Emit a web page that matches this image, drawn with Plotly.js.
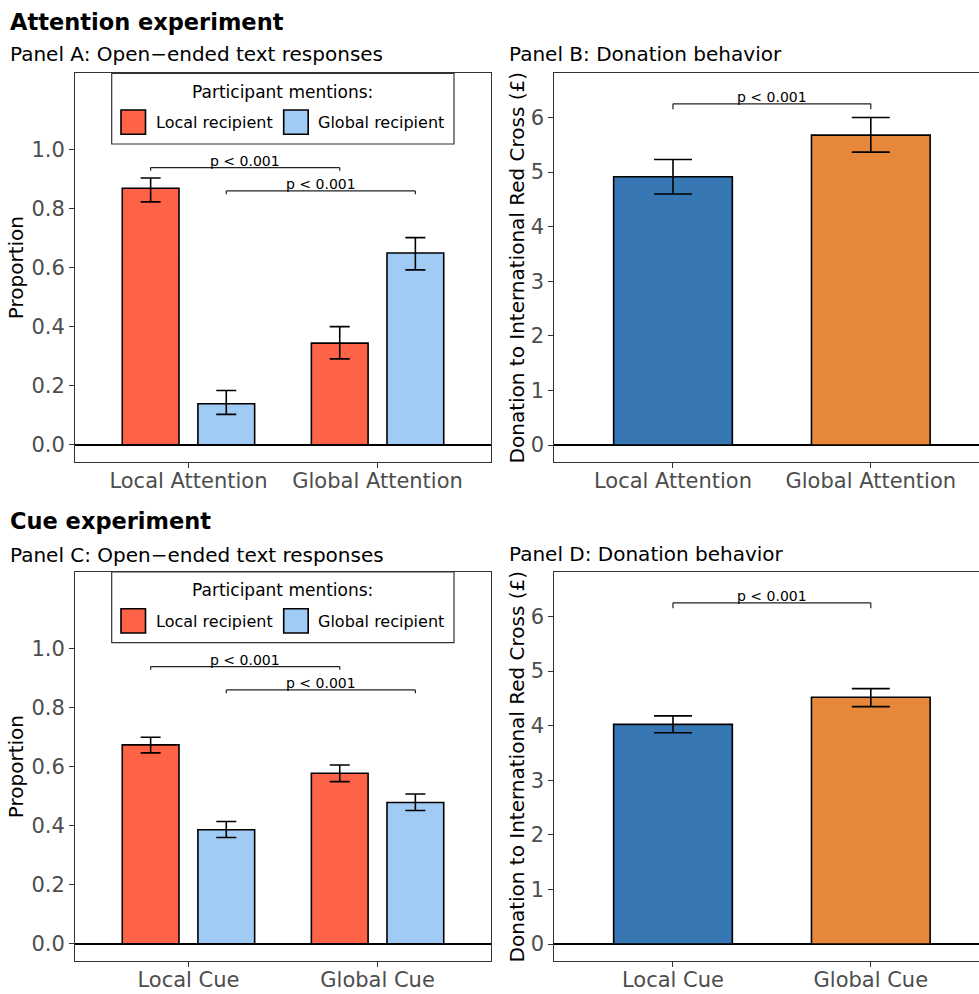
<!DOCTYPE html>
<html>
<head>
<meta charset="utf-8">
<script src="https://cdn.plot.ly/plotly-3.0.1.min.js"></script>
<style>html,body{margin:0;padding:0;background:#fff;}#chart{width:979px;height:994px;}</style>
</head>
<body>
<div id="chart"></div>
<script>
// ---------- data ----------
const attnCategories = ['Local Attention', 'Global Attention'];
const cueCategories = ['Local Cue', 'Global Cue'];
const mentionSeries = ['Local recipient', 'Global recipient'];
const legendTitle = 'Participant mentions:';

const attnLocalMention = [0.868, 0.344];
const attnLocalMentionHi = [0.903, 0.400];
const attnLocalMentionLo = [0.822, 0.291];
const attnGlobalMention = [0.139, 0.649];
const attnGlobalMentionHi = [0.184, 0.701];
const attnGlobalMentionLo = [0.103, 0.592];

const attnDonation = [4.915, 5.677];
const attnDonationHi = [5.23, 6.00];
const attnDonationLo = [4.60, 5.366];

const cueLocalMention = [0.673, 0.577];
const cueLocalMentionHi = [0.699, 0.605];
const cueLocalMentionLo = [0.646, 0.549];
const cueGlobalMention = [0.386, 0.478];
const cueGlobalMentionHi = [0.414, 0.507];
const cueGlobalMentionLo = [0.360, 0.451];

const cueDonation = [4.024, 4.52];
const cueDonationHi = [4.18, 4.68];
const cueDonationLo = [3.87, 4.35];

const propTickVals = [0, 0.2, 0.4, 0.6, 0.8, 1.0];
const propTickText = ['0.0', '0.2', '0.4', '0.6', '0.8', '1.0'];
const donTickVals = [0, 1, 2, 3, 4, 5, 6];
const donTickText = ['0', '1', '2', '3', '4', '5', '6'];

const pLabel = 'p < 0.001';
// brackets: [x start, x end, y]
const propBrackets = [[-0.2, 0.8, 0.938], [0.2, 1.2, 0.859]];
const donBracket = [0, 1, 6.25];

// ---------- styles ----------
const W = 979, H = 994;
const FONT = 'DejaVu Sans, Liberation Sans, Arial, sans-serif';
const cLocal = '#FF6347', cGlobal = '#A0CBF5';
const cDonLocal = '#3777B3', cDonGlobal = '#E7873A';
const px = x => x / W;
const py = y => 1 - y / H;

function errs(v, hi, lo) {
  return {
    type: 'data', symmetric: false,
    array: v.map((d, i) => hi[i] - d),
    arrayminus: v.map((d, i) => d - lo[i]),
    color: '#000', thickness: 1.6
  };
}

function mentionTraces(cats, loc, locHi, locLo, glo, gloHi, gloLo, xa, ya) {
  return [
    {type: 'bar', x: cats, y: loc, name: mentionSeries[0], xaxis: xa, yaxis: ya,
     marker: {color: cLocal, line: {color: '#000', width: 1.6}},
     error_y: Object.assign(errs(loc, locHi, locLo), {width: 10}), showlegend: false},
    {type: 'bar', x: cats, y: glo, name: mentionSeries[1], xaxis: xa, yaxis: ya,
     marker: {color: cGlobal, line: {color: '#000', width: 1.6}},
     error_y: Object.assign(errs(glo, gloHi, gloLo), {width: 10}), showlegend: false}
  ];
}
function donationTrace(cats, v, hi, lo, xa, ya) {
  return {type: 'bar', x: cats, y: v, xaxis: xa, yaxis: ya, width: 0.6, showlegend: false,
    marker: {color: [cDonLocal, cDonGlobal], line: {color: '#000', width: 1.6}},
    error_y: Object.assign(errs(v, hi, lo), {width: 19})};
}

const data = [
  ...mentionTraces(attnCategories, attnLocalMention, attnLocalMentionHi, attnLocalMentionLo,
                   attnGlobalMention, attnGlobalMentionHi, attnGlobalMentionLo, 'x', 'y'),
  donationTrace(attnCategories, attnDonation, attnDonationHi, attnDonationLo, 'x2', 'y2'),
  ...mentionTraces(cueCategories, cueLocalMention, cueLocalMentionHi, cueLocalMentionLo,
                   cueGlobalMention, cueGlobalMentionHi, cueGlobalMentionLo, 'x3', 'y3'),
  donationTrace(cueCategories, cueDonation, cueDonationHi, cueDonationLo, 'x4', 'y4')
];

const tickFont = {family: FONT, size: 21, color: '#4D4D4D'};
const titleFont = {family: FONT, size: 20, color: '#000'};
function xAx(dom, range, anchor) {
  return {domain: dom, range: range, anchor: anchor, type: 'category',
    showline: true, mirror: true, linecolor: '#333', linewidth: 1,
    ticks: 'outside', ticklen: 5, tickcolor: '#333', tickfont: tickFont,
    ticklabelstandoff: -5,
    showgrid: false, zeroline: false, fixedrange: true};
}
function yAx(dom, range, anchor, tv, tt, title, standoff) {
  return {domain: dom, range: range, anchor: anchor,
    tickmode: 'array', tickvals: tv, ticktext: tt,
    showline: true, mirror: true, linecolor: '#333', linewidth: 1,
    ticks: 'outside', ticklen: 5, tickcolor: '#333', tickfont: tickFont,
    showgrid: false, zeroline: true, zerolinecolor: '#000', zerolinewidth: 1.5,
    title: {text: title, font: titleFont, standoff: standoff}, fixedrange: true};
}

const xLeft = [px(75), px(491)];
const xRight = [px(554.3), 1];
const yTop = [py(462), py(73.3)];
const yBot = [py(961), py(572.3)];

const shapes = [];
const annotations = [];

function addBracket(xa, ya, x0, x1, y, tick) {
  const line = {color: '#222', width: 1.2};
  shapes.push({type: 'line', xref: xa, yref: ya, x0: x0, x1: x1, y0: y, y1: y, line: line});
  shapes.push({type: 'line', xref: xa, yref: ya, x0: x0, x1: x0, y0: y, y1: y - tick, line: line});
  shapes.push({type: 'line', xref: xa, yref: ya, x0: x1, x1: x1, y0: y, y1: y - tick, line: line});
  annotations.push({xref: xa, yref: ya, x: (x0 + x1) / 2, y: y, text: pLabel, showarrow: false,
    xanchor: 'center', yanchor: 'bottom', yshift: -3, font: {family: FONT, size: 14, color: '#000'}});
}
propBrackets.forEach(b => addBracket('x', 'y', b[0], b[1], b[2], 0.011));
propBrackets.forEach(b => addBracket('x3', 'y3', b[0], b[1], b[2], 0.011));
addBracket('x2', 'y2', donBracket[0], donBracket[1], donBracket[2], 0.1);
addBracket('x4', 'y4', donBracket[0], donBracket[1], donBracket[2], 0.1);

function addLegend(dy) {
  shapes.push({type: 'rect', xref: 'paper', yref: 'paper', x0: px(111.7), x1: px(454),
    y0: py(144 + dy), y1: py(73.3 + dy), line: {color: '#333', width: 1.2}, fillcolor: '#fff'});
  annotations.push({xref: 'paper', yref: 'paper', x: px(282.5), y: py(91.5 + dy), text: legendTitle,
    showarrow: false, xanchor: 'center', yanchor: 'middle', font: {family: FONT, size: 17, color: '#000'}});
  const sw = [[121, cLocal, 155.7], [283.7, cGlobal, 317.7]];
  sw.forEach((s, i) => {
    shapes.push({type: 'rect', xref: 'paper', yref: 'paper', x0: px(s[0]), x1: px(s[0] + 24.5),
      y0: py(134.3 + dy), y1: py(110 + dy), fillcolor: s[1], line: {color: '#000', width: 1.6}});
    annotations.push({xref: 'paper', yref: 'paper', x: px(s[2]), y: py(123 + dy), text: mentionSeries[i],
      showarrow: false, xanchor: 'left', yanchor: 'middle', xshift: -2, font: {family: FONT, size: 16, color: '#000'}});
  });
}
addLegend(0);
addLegend(498.7);

function addTitle(text, x, yc, size, bold) {
  annotations.push({xref: 'paper', yref: 'paper', x: px(x), y: py(yc), text: bold ? '<b>' + text + '</b>' : text,
    showarrow: false, xanchor: 'left', yanchor: 'middle', xshift: -2,
    font: {family: FONT, size: size, color: '#000'}});
}
addTitle('Attention experiment', 10, 21.5, 22.5, true);
addTitle('Panel A: Open−ended text responses', 10, 54.5, 20, false);
addTitle('Panel B: Donation behavior', 508.5, 54, 20, false);
addTitle('Cue experiment', 10, 520.5, 22.5, true);
addTitle('Panel C: Open−ended text responses', 10, 554.5, 20, false);
addTitle('Panel D: Donation behavior', 508.5, 554, 20, false);

const layout = {
  width: W, height: H, margin: {l: 0, r: 0, t: 0, b: 0},
  paper_bgcolor: '#fff', plot_bgcolor: '#fff',
  font: {family: FONT},
  barmode: 'group', bargap: 0.2, bargroupgap: 0.25,
  showlegend: false,
  xaxis: xAx(xLeft, [-0.6, 1.6], 'y'),
  yaxis: yAx(yTop, [-0.058, 1.257], 'x', propTickVals, propTickText, 'Proportion', 2),
  xaxis2: xAx(xRight, [-0.6, 1.547], 'y2'),
  yaxis2: yAx(yTop, [-0.31, 6.81], 'x2', donTickVals, donTickText, 'Donation to International Red Cross (£)', 0),
  xaxis3: xAx(xLeft, [-0.6, 1.6], 'y3'),
  yaxis3: yAx(yBot, [-0.058, 1.257], 'x3', propTickVals, propTickText, 'Proportion', 2),
  xaxis4: xAx(xRight, [-0.6, 1.547], 'y4'),
  yaxis4: yAx(yBot, [-0.31, 6.81], 'x4', donTickVals, donTickText, 'Donation to International Red Cross (£)', 0),
  shapes: shapes, annotations: annotations
};

Plotly.newPlot('chart', data, layout, {staticPlot: true, displayModeBar: false});
</script>
</body>
</html>
